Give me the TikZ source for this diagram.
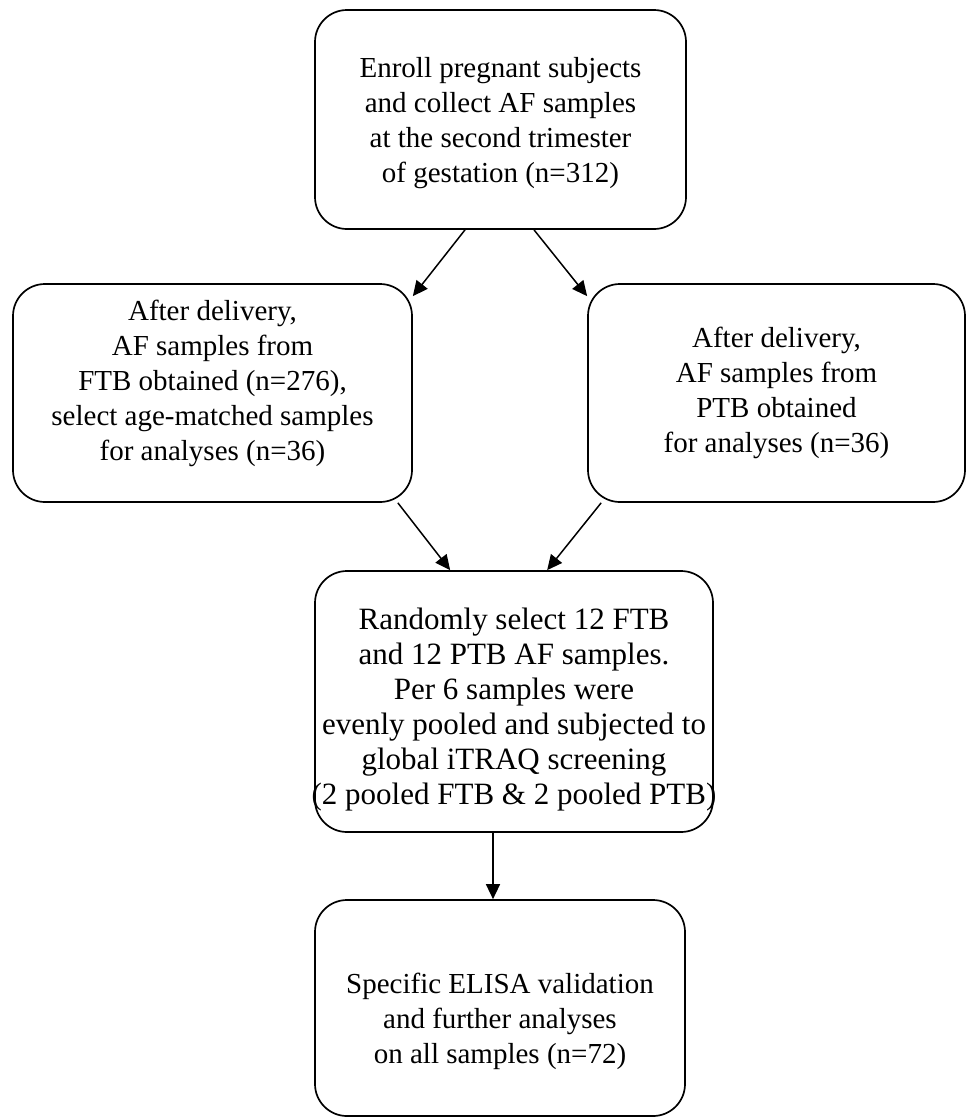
\documentclass[tikz,border=0pt]{standalone}
\usepackage{fontspec}
\setmainfont{Liberation Serif}
\usetikzlibrary{arrows.meta,calc}
\tikzset{
  flowbox/.style={draw=black, line width=1.7pt, rounded corners=32pt, inner sep=0pt},
  flowtext/.style={align=center, inner sep=0pt, font=\fontsize{29}{35}\selectfont},
  arr/.style={line width=1.5pt, -{Triangle[length=15pt,width=14pt]}}
}
\begin{document}
\begin{tikzpicture}[x=1pt,y=-1pt]
\useasboundingbox (0,0) rectangle (966,1117);
\node[flowbox, minimum width=371pt, minimum height=219pt] (b1) at (500.5,119.5) {};
\node[flowtext] (t1) at ($(b1.center)+(0,4)$)
  {Enroll pregnant subjects\\and collect AF samples\\at the second trimester\\of gestation (n=312)};
\node[flowbox, minimum width=399pt, minimum height=218pt] (b2) at (212.5,393) {};
\node[flowtext] (t2) at ($(b2.center)+(0,-10)$)
  {After delivery,\\AF samples from\\FTB obtained (n=276),\\select age-matched samples\\for analyses (n=36)};
\node[flowbox, minimum width=377pt, minimum height=218pt] (b3) at (776.5,393) {};
\node[flowtext] (t3) at (b3.center)
  {After delivery,\\AF samples from\\PTB obtained\\for analyses (n=36)};
\node[flowbox, minimum width=398pt, minimum height=261pt] (b4) at (514,701.5) {};
\node[flowtext, font=\fontsize{31}{35}\selectfont] (t4) at ($(b4.center)+(0,8)$)
  {Randomly select 12 FTB\\and 12 PTB AF samples.\\Per 6 samples were\\evenly pooled and subjected to\\global iTRAQ screening\\(2 pooled FTB \& 2 pooled PTB)};
\node[flowbox, minimum width=370pt, minimum height=216pt] (b5) at (500,1008) {};
\node[flowtext] (t5) at ($(b5.center)+(0,13)$)
  {Specific ELISA validation\\and further analyses\\on all samples (n=72)};
\draw[arr] ($(b1.south)+(-35.5,0)$) -- ($(b2.north east)+(0,13)$);
\draw[arr] ($(b1.south)+(33.5,0)$) -- ($(b3.north west)+(0,13)$);
\draw[arr] ($(b2.south east)+(-15,0)$) -- ($(b4.north west)+(136,0)$);
\draw[arr] ($(b3.south west)+(14,0)$) -- ($(b4.north west)+(233,0)$);
\draw[arr] (b4.south -| 493,0) -- (b5.north -| 493,0);
\end{tikzpicture}
\end{document}
